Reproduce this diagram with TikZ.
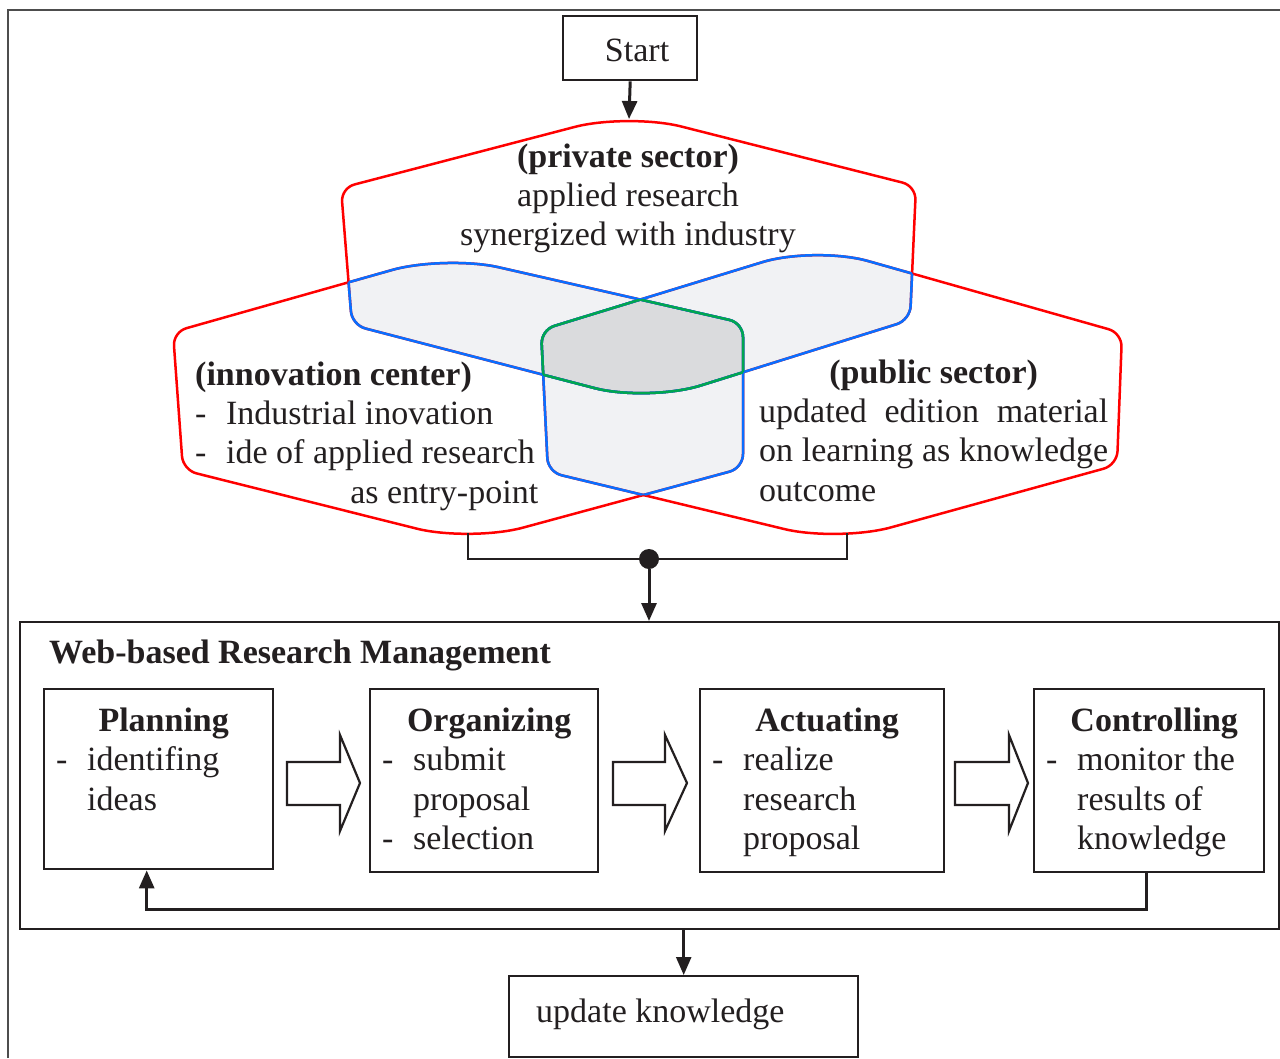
\documentclass[tikz,border=0pt]{standalone}
\usepackage{fontspec}
\setmainfont{Liberation Serif}
\usetikzlibrary{arrows.meta,calc}

\definecolor{ink}{HTML}{231F20}
\definecolor{framegray}{HTML}{4D4D4D}
\definecolor{vennred}{HTML}{FF0000}
\definecolor{vennblue}{HTML}{0A6EFF}
\definecolor{venngreen}{HTML}{00A650}
\definecolor{pairfill}{HTML}{F1F2F4}
\definecolor{triplefill}{HTML}{DADBDD}

% one rounded corner: prev, vertex, next, inset, control distance
\newcommand\hexcorner[5]{-- ($(#2)!#4!(#1)$) .. controls ($(#2)!#5!(#1)$) and ($(#2)!#5!(#3)$) .. ($(#2)!#4!(#3)$)}
% rounded hexagon through the coordinates <name>t, ur, lr, b, ll, ul
\newcommand\hexagonpath[1]{($(#1t)!55pt!(#1ul)$) .. controls ($(#1t)!25pt!(#1ul)$) and ($(#1t)!25pt!(#1ur)$) .. ($(#1t)!55pt!(#1ur)$)
  \hexcorner{#1t}{#1ur}{#1lr}{14pt}{6pt}
  \hexcorner{#1ur}{#1lr}{#1b}{14pt}{6pt}
  \hexcorner{#1lr}{#1b}{#1ll}{55pt}{25pt}
  \hexcorner{#1b}{#1ll}{#1ul}{14pt}{6pt}
  \hexcorner{#1ll}{#1ul}{#1t}{14pt}{6pt}
  -- cycle}

\tikzset{
  txt/.style={font=\fontsize{34}{39.4}\selectfont, text=ink, inner sep=0pt},
  boxnode/.style={txt, draw=ink, line width=2.4pt, fill=white, inner ysep=0pt,
    anchor=north west, align=flush left},
  stagebox/.style={boxnode, inner xsep=12pt, text height=42pt},
  arr/.style={draw=ink, line width=3pt, -{Triangle[length=18pt,width=15pt]}},
  wire/.style={draw=ink, line width=2pt},
  blockarrow/.style={draw=ink, line width=2.2pt, fill=white, line join=miter},
  venn/.style={line width=2.5pt, line join=round},
}

\begin{document}
\begin{tikzpicture}[x=1pt, y=-1pt]
\useasboundingbox (0,0) rectangle (1280,1058);

% page frame
\draw[framegray, line width=2pt] (8,1058) -- (8,10) -- (1280,10);

% the three sector hexagons
\coordinate (Pt) at (628,113);  \coordinate (Pur) at (916,186);
\coordinate (Plr) at (910,320); \coordinate (Pb) at (648,402);
\coordinate (Pll) at (352,325); \coordinate (Pul) at (341,188);

\coordinate (It) at (445,255);  \coordinate (Iur) at (743,323);
\coordinate (Ilr) at (743,468); \coordinate (Ib) at (470,542);
\coordinate (Ill) at (183,470); \coordinate (Iul) at (173,332);

\coordinate (Ut) at (815,246);   \coordinate (Uur) at (1122,333);
\coordinate (Ulr) at (1117,465); \coordinate (Ub) at (838,542);
\coordinate (Ull) at (548,472);  \coordinate (Uul) at (541,330);

% overlaps
\begin{scope}
  \clip \hexagonpath{P};
  \fill[pairfill] \hexagonpath{I};
  \fill[pairfill] \hexagonpath{U};
\end{scope}
\begin{scope}
  \clip \hexagonpath{I};
  \fill[pairfill] \hexagonpath{U};
\end{scope}
\begin{scope}
  \clip \hexagonpath{P};
  \clip \hexagonpath{I};
  \fill[triplefill] \hexagonpath{U};
\end{scope}

% outlines: outer red, double overlap blue, triple overlap green
\draw[venn, vennred] \hexagonpath{P};
\draw[venn, vennred] \hexagonpath{I};
\draw[venn, vennred] \hexagonpath{U};
\begin{scope}
  \clip \hexagonpath{P};
  \draw[venn, vennblue] \hexagonpath{I};
  \draw[venn, vennblue] \hexagonpath{U};
\end{scope}
\begin{scope}
  \clip \hexagonpath{I};
  \draw[venn, vennblue] \hexagonpath{P};
  \draw[venn, vennblue] \hexagonpath{U};
\end{scope}
\begin{scope}
  \clip \hexagonpath{U};
  \draw[venn, vennblue] \hexagonpath{P};
  \draw[venn, vennblue] \hexagonpath{I};
\end{scope}
\begin{scope}
  \clip \hexagonpath{P}; \clip \hexagonpath{I};
  \draw[venn, venngreen] \hexagonpath{U};
\end{scope}
\begin{scope}
  \clip \hexagonpath{P}; \clip \hexagonpath{U};
  \draw[venn, venngreen] \hexagonpath{I};
\end{scope}
\begin{scope}
  \clip \hexagonpath{I}; \clip \hexagonpath{U};
  \draw[venn, venngreen] \hexagonpath{P};
\end{scope}

% sector texts
\node[txt, anchor=base, text width=400pt, align=flush center] (privtext) at (628,167)
  {\textbf{(private sector)}\\applied research\\synergized with industry};
\node[txt, anchor=base west, text width=380pt, align=flush left] (innotext) at (195,385)
  {\textbf{(innovation center)}\\
   \makebox[31pt][l]{-}\mbox{Industrial inovation}\\
   \makebox[31pt][l]{-}\mbox{ide of applied research}\\
   \makebox[343pt][r]{as entry-point}};
\node[txt, anchor=base west, text width=380pt, align=flush left] (pubtext) at (759,383)
  {\makebox[349pt]{\textbf{(public sector)}}\\
   \makebox[349pt][s]{updated\hfil edition\hfil material}\\
   \makebox[349pt][s]{on learning as knowledge}\\
   outcome};

% start
\node[boxnode, align=flush right, inner xsep=28pt, text width=78pt,
      text height=45pt, text depth=19pt] (start) at (562,15) {Start};
\coordinate (privT) at (629,119);
\draw[arr] (start.south) -- (privT);

% management frame and its stages
\node[boxnode, inner xsep=29pt, text width=1201pt, text height=41pt,
      text depth=266pt] (wbrm) at (19,621) {\textbf{Web-based Research Management}};

\node[stagebox, text width=205pt, text depth=138pt] (plan) at (43,688)
  {\makebox[\linewidth]{\hspace{10pt}\textbf{Planning}}\\
   \makebox[31pt][l]{-}identifing\\
   \hspace*{31pt}ideas};
\node[stagebox, text width=204pt, text depth=141pt] (org) at (369,688)
  {\makebox[\linewidth]{\hspace{10pt}\textbf{Organizing}}\\
   \makebox[31pt][l]{-}submit\\
   \hspace*{31pt}proposal\\
   \makebox[31pt][l]{-}selection};
\node[stagebox, text width=220pt, text depth=141pt] (act) at (699,688)
  {\makebox[\linewidth]{\hspace{10pt}\textbf{Actuating}}\\
   \makebox[31pt][l]{-}realize\\
   \hspace*{31pt}research\\
   \hspace*{31pt}proposal};
\node[stagebox, text width=206pt, text depth=141pt] (ctrl) at (1033,688)
  {\makebox[\linewidth]{\hspace{10pt}\textbf{Controlling}}\\
   \makebox[31pt][l]{-}\mbox{monitor the}\\
   \hspace*{31pt}\mbox{results of}\\
   \hspace*{31pt}knowledge};

% hollow arrows between stages
\draw[blockarrow] (287,762) -- (340,762) -- (340,735) -- (360,783) -- (340,831)
  -- (340,805) -- (287,805) -- cycle;
\draw[blockarrow] (613,762) -- (665,762) -- (665,735) -- (687,783) -- (665,831)
  -- (665,805) -- (613,805) -- cycle;
\draw[blockarrow] (955,762) -- (1009,762) -- (1009,735) -- (1028,783) -- (1009,831)
  -- (1009,805) -- (955,805) -- cycle;

% feedback loop
\draw[arr] ([xshift=-3pt]ctrl.south) -- ++(0,36) -| ([xshift=-12pt]plan.south);

% joining the sectors into the management frame
\coordinate (innoB) at (468,533);
\coordinate (pubB) at (847,533);
\node[circle, fill=ink, inner sep=0pt, minimum size=20pt] (join) at (649,559) {};
\draw[wire] (innoB) |- (join.center) -| (pubB);
\draw[arr] (join.south) -- (join |- wbrm.north);

% result
\node[boxnode, inner xsep=27pt, text width=295pt, text height=46pt,
      text depth=35pt] (update) at (508,975) {update knowledge};
\draw[arr, line width=2.5pt] (wbrm.south -| update.north) -- (update.north);
\end{tikzpicture}
\end{document}
